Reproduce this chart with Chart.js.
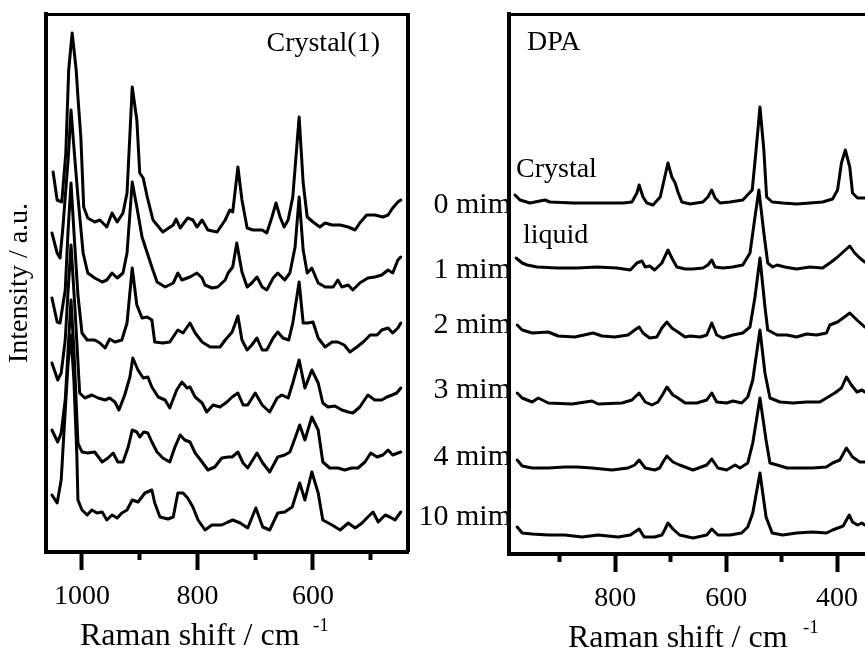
<!DOCTYPE html>
<html>
<head>
<meta charset="utf-8">
<title>Raman spectra</title>
<script src="https://cdn.jsdelivr.net/npm/chart.js@4.4.1/dist/chart.umd.min.js"></script>
<style>
  body { margin: 0; background: #fff; overflow: hidden; }
  canvas { position: absolute; top: 0; }
  #leftChart { left: 0; }
  #rightChart { left: 440px; }
</style>
</head>
<body>
<canvas id="leftChart" width="520" height="657"></canvas>
<canvas id="rightChart" width="460" height="657"></canvas>
<script>
// Crystal(1) spectra, Raman shift (cm-1) and stacked intensity (a.u.)
const c1Shift0 = [1050,1043,1035,1028,1023,1017,1010,1007,1002,997,990,978,969,957,948,939,929,922,913,905,900,894,887,877,860,842,837,830,817,808,801,792,782,766,752,744,739,730,723,714,704,688,680,671,664,657,650,643,635,624,617,610,600,588,579,567,553,539,527,519,507,493,479,470,462,453,448];
const c1Int0 = [378,350,348,397,480,517,480,453,413,343,332,328,330,323,337,328,337,357,463,430,377,372,353,330,318,325,331,322,332,330,323,330,320,318,330,340,338,383,350,322,320,320,317,333,347,333,323,330,353,433,367,333,328,323,327,325,325,323,320,327,335,335,333,335,342,348,350];

const c1Shift1 = [1052,1043,1038,1033,1024,1019,1014,1007,998,990,978,965,957,948,939,929,922,913,905,896,887,879,870,856,842,834,827,813,801,792,787,775,765,752,747,739,732,723,714,706,697,688,680,669,661,649,640,631,624,617,610,602,591,579,565,557,550,539,531,519,505,493,481,470,462,453,448];
const c1Int1 = [317,297,292,323,390,440,403,353,297,277,272,268,270,277,272,277,297,368,343,313,297,283,268,263,267,277,270,273,277,272,265,262,263,270,277,283,307,278,263,267,273,263,260,272,277,270,277,303,353,300,277,282,267,263,263,270,263,265,260,267,272,273,275,280,277,290,293];

const c1Shift2 = [1052,1043,1038,1029,1024,1019,1012,1007,1000,991,978,969,960,952,943,931,922,913,905,896,887,879,874,860,848,834,825,813,804,792,778,761,752,740,730,723,714,706,697,688,680,669,661,652,642,635,624,617,609,600,591,579,567,557,546,536,524,513,501,489,481,470,462,453,448];
const c1Int2 = [252,228,227,260,320,367,300,255,217,210,210,207,202,211,208,210,227,282,245,232,233,230,208,207,208,220,217,227,217,208,203,203,210,218,234,210,200,205,212,200,200,212,218,212,210,227,268,227,227,228,212,203,208,208,205,198,203,208,215,215,220,222,217,222,227];

const c1Shift3 = [1052,1042,1036,1029,1024,1019,1012,1004,995,983,972,960,952,943,936,926,917,912,903,894,886,879,868,856,848,836,827,818,813,804,792,784,773,761,749,740,730,721,713,700,688,675,662,654,643,635,624,614,602,591,583,574,562,550,539,531,519,505,493,481,472,463,455,448];
const c1Int3 = [187,170,177,210,260,305,240,157,152,155,152,150,152,148,140,155,173,192,180,172,173,163,153,150,142,160,168,162,163,153,147,138,145,143,148,153,157,145,145,157,145,138,152,155,152,167,190,162,180,167,147,143,144,140,138,137,143,155,150,150,153,155,157,162];

const c1Shift4 = [1052,1042,1036,1029,1024,1019,1014,1007,1000,990,978,965,955,946,938,929,920,913,905,900,893,886,879,870,860,848,839,830,822,813,804,792,782,770,758,747,740,730,721,713,697,687,675,661,649,640,631,623,614,602,591,583,571,557,545,533,522,510,500,489,479,470,462,453,448];
const c1Int4 = [120,108,117,150,200,250,200,107,98,97,98,88,92,97,88,88,103,120,118,113,118,117,108,98,92,88,103,115,110,108,97,88,80,83,92,93,93,98,87,82,97,87,78,93,95,98,112,125,110,133,120,88,82,82,80,82,82,88,97,93,95,100,95,97,98];

const c1Shift5 = [1052,1043,1036,1031,1024,1019,1014,1009,1007,1000,991,983,974,965,957,948,939,931,922,913,903,891,879,874,865,851,842,834,825,817,808,799,787,775,758,747,739,726,713,699,687,675,661,649,636,623,614,602,591,583,567,553,539,527,515,505,496,487,475,467,458,448];
const c1Int5 = [55,47,70,120,187,215,170,97,50,40,35,40,37,38,30,35,32,37,40,50,48,57,60,47,33,31,33,57,57,52,43,30,20,25,25,28,30,27,22,42,23,20,37,38,43,67,50,78,57,30,25,20,27,22,27,33,38,28,35,33,30,38];

// DPA spectra (crystal, liquid, then time series)
const dpaShift0 = [981,972,954,927,918,876,833,786,770,761,757,750,743,732,719,712,705,698,692,687,680,665,642,633,626,620,611,593,570,553,546,539,532,527,517,498,473,449,426,408,399,392,385,377,372,363,350,323];
const dpaInt0 = [357,352,349,352,350,349,349,349,350,359,367,355,349,347,355,372,389,375,369,360,350,348,350,355,362,354,349,350,352,362,402,445,402,355,350,349,348,349,350,353,362,389,402,385,359,354,354,355];

const dpaShift1 = [979,968,959,941,905,869,833,797,773,761,752,746,738,729,716,705,698,689,674,660,642,633,626,620,606,588,570,557,548,541,532,525,516,508,494,473,449,426,413,401,389,377,368,359,350,323];
const dpaInt1 = [294,289,287,285,284,284,285,284,282,289,291,285,286,282,289,302,294,285,283,283,284,287,292,285,284,285,287,299,335,362,319,289,285,287,285,283,285,284,289,294,300,306,299,294,290,290];

const dpaShift2 = [977,968,950,921,903,873,840,824,801,777,765,757,750,738,725,716,707,698,687,674,665,647,635,626,617,606,588,570,557,548,539,530,525,508,490,473,455,437,419,413,399,389,377,364,350,323];
const dpaInt2 = [227,222,219,220,216,215,219,216,215,217,222,225,219,214,215,224,230,224,220,215,216,215,217,229,217,214,217,219,225,255,294,245,222,217,217,215,218,217,219,227,230,234,239,232,225,224];

const dpaShift3 = [977,968,950,939,921,878,842,831,788,770,757,746,734,723,714,707,696,687,674,653,635,626,617,599,588,572,561,552,539,530,521,503,480,455,431,419,404,392,383,374,364,355,350,323];
const dpaInt3 = [159,154,150,154,149,148,151,148,149,152,159,150,147,150,158,165,157,154,149,149,152,159,150,149,151,149,155,172,222,179,154,150,149,150,150,154,159,164,175,167,160,162,160,160];

const dpaShift4 = [977,968,950,921,891,869,842,806,777,765,757,746,729,720,714,707,696,684,660,635,626,615,599,584,575,561,552,539,528,521,508,490,467,444,419,408,395,383,372,359,350,323];
const dpaInt4 = [92,86,84,84,85,85,84,82,84,87,92,84,82,84,90,96,90,87,82,87,93,84,82,87,84,89,109,154,112,89,87,84,84,84,85,89,92,104,95,90,90,90];

const dpaShift5 = [977,968,950,921,891,860,831,795,773,765,757,748,729,716,711,705,696,684,660,635,626,615,593,572,561,552,539,528,517,498,473,444,419,408,389,378,372,363,355,350,323];
const dpaInt5 = [25,19,18,17,17,15,17,15,17,20,23,15,15,17,22,29,23,17,14,17,23,17,17,19,25,39,79,35,19,17,19,20,19,22,26,37,30,27,29,27,27];

// time labels between the panels and the level they sit at
const timeLabels = ['0 mim', '1 mim', '2 mim', '3 mim', '4 mim', '10 mim'];
const labelLevels = [345, 280, 225, 160, 93, 33];

const serif = '"Liberation Serif", "Times New Roman", serif';

function toPoints(xs, ys) {
    return xs.map((x, i) => ({ x: x, y: ys[i] }));
}

function spectrum(xs, ys) {
    return {
        data: toPoints(xs, ys),
        borderColor: '#000',
        borderWidth: 3,
        borderJoinStyle: 'round',
        borderCapStyle: 'round',
        pointRadius: 0,
        fill: false,
        tension: 0
    };
}

// top and right sides of the box
const framePlugin = {
    id: 'frame',
    afterDraw(chart) {
        const { ctx, chartArea: a } = chart;
        ctx.save();
        ctx.strokeStyle = '#000';
        ctx.lineWidth = 3;
        ctx.beginPath();
        ctx.moveTo(a.left - 2, a.top + 0.5);
        ctx.lineTo(a.right + 2, a.top + 0.5);
        ctx.stroke();
        ctx.lineWidth = 4;
        ctx.beginPath();
        ctx.moveTo(a.right, a.top);
        ctx.lineTo(a.right, a.bottom);
        ctx.stroke();
        ctx.restore();
    }
};

function xAxis(min, max, height) {
    return {
        type: 'linear',
        reverse: true,
        min: min,
        max: max,
        afterFit: s => { s.height = height; },
        border: { display: true, color: '#000', width: 4 },
        grid: {
            drawOnChartArea: false,
            drawTicks: true,
            tickLength: 18,
            tickWidth: 4,
            tickColor: '#000',
            tickBorderDash: c => (c.tick && c.tick.value % 200 === 0) ? [] : [6, 40]
        },
        ticks: {
            stepSize: 100,
            includeBounds: false,
            autoSkip: false,
            maxRotation: 0,
            padding: 10,
            color: '#000',
            font: { family: serif, size: 28 },
            callback: v => (v % 200 === 0) ? String(v) : ''
        }
    };
}

function yAxis(max, width, title) {
    return {
        min: -2,
        max: max,
        afterFit: s => { s.width = width; },
        border: { display: true, color: '#000', width: 4 },
        grid: { drawOnChartArea: false, drawTicks: false },
        ticks: { display: false },
        title: {
            display: !!title,
            text: title || '',
            color: '#000',
            font: { family: serif, size: 28 },
            padding: { top: 3, bottom: 0 }
        }
    };
}

function drawAxisTitle(ctx, x, y, supX, supY) {
    ctx.font = '32px ' + serif;
    ctx.textAlign = 'left';
    ctx.textBaseline = 'alphabetic';
    ctx.fillText('Raman shift / cm', x, y);
    ctx.font = '19px ' + serif;
    ctx.fillText('-1', supX, supY);
}

const leftText = {
    id: 'leftText',
    afterDraw(chart) {
        const { ctx, chartArea: a } = chart;
        const yScale = chart.scales.y;
        ctx.save();
        ctx.fillStyle = '#000';
        ctx.font = '28px ' + serif;
        ctx.textAlign = 'right';
        ctx.textBaseline = 'alphabetic';
        ctx.fillText('Crystal(1)', a.right - 28, 51);
        ctx.font = '30px ' + serif;
        ctx.textBaseline = 'middle';
        timeLabels.forEach((t, i) => {
            ctx.fillText(t, 511, yScale.getPixelForValue(labelLevels[i]));
        });
        drawAxisTitle(ctx, 80, 645, 313, 631);
        ctx.restore();
    }
};

const rightText = {
    id: 'rightText',
    afterDraw(chart) {
        const { ctx, chartArea: a } = chart;
        ctx.save();
        ctx.fillStyle = '#000';
        ctx.font = '28px ' + serif;
        ctx.textAlign = 'left';
        ctx.textBaseline = 'alphabetic';
        ctx.fillText('DPA', a.left + 18, 50);
        ctx.fillText('Crystal', a.left + 7, 177);
        ctx.fillText('liquid', a.left + 14, 243);
        drawAxisTitle(ctx, 128, 647, 363, 633);
        ctx.restore();
    }
};

const commonOptions = {
    responsive: false,
    animation: false,
    plugins: { legend: { display: false }, tooltip: { enabled: false } }
};

new Chart(document.getElementById('leftChart'), {
    type: 'line',
    data: {
        datasets: [
            spectrum(c1Shift0, c1Int0),
            spectrum(c1Shift1, c1Int1),
            spectrum(c1Shift2, c1Int2),
            spectrum(c1Shift3, c1Int3),
            spectrum(c1Shift4, c1Int4),
            spectrum(c1Shift5, c1Int5)
        ]
    },
    options: {
        ...commonOptions,
        layout: { padding: { top: 14, left: 0, right: 112, bottom: 0 } },
        scales: {
            x: xAxis(435.5, 1062.3, 105),
            y: yAxis(536, 46, 'Intensity / a.u.')
        }
    },
    plugins: [framePlugin, leftText]
});

new Chart(document.getElementById('rightChart'), {
    type: 'line',
    data: {
        datasets: [
            spectrum(dpaShift0, dpaInt0),
            spectrum(dpaShift1, dpaInt1),
            spectrum(dpaShift2, dpaInt2),
            spectrum(dpaShift3, dpaInt3),
            spectrum(dpaShift4, dpaInt4),
            spectrum(dpaShift5, dpaInt5)
        ]
    },
    options: {
        ...commonOptions,
        layout: { padding: { top: 14, left: 0, right: 10, bottom: 0 } },
        scales: {
            x: xAxis(304.4, 991.8, 103),
            y: yAxis(538, 69, null)
        }
    },
    plugins: [framePlugin, rightText]
});
</script>
</body>
</html>
